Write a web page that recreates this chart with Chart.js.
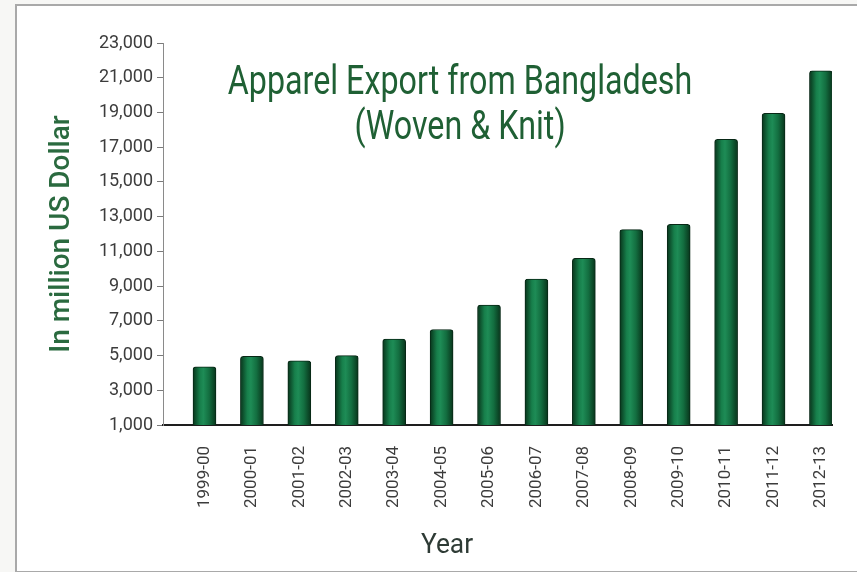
<!DOCTYPE html>
<html>
<head>
<meta charset="utf-8">
<script src="https://cdn.jsdelivr.net/npm/chart.js@4"></script>
<style>
  html, body { margin: 0; padding: 0; background: #f7f7f5; }
  #wrap { position: relative; width: 857px; height: 572px; overflow: hidden; }
  #frame { position: absolute; left: 15px; top: 4px; width: 900px; height: 565px;
           border: 2px solid #a9a9a9; background: #ffffff; }
  canvas { position: absolute; left: 0; top: 0; }
  #title { position: absolute; left: 160px; width: 600px; top: 58px; text-align: center;
           font-family: Roboto, sans-serif; font-size: 40px; line-height: 45px; color: #1f6034;
           white-space: nowrap; transform: scaleX(0.806); transform-origin: 300px 0; }
  #xtitle { position: absolute; left: 397px; width: 100px; top: 530px; text-align: center;
            font-family: Roboto, sans-serif; font-size: 28px; line-height: 28px; color: #2e3b35;
            transform: scaleX(0.94); transform-origin: 50px 0; }
</style>
</head>
<body>
<div id="wrap">
  <div id="frame"></div>
  <canvas id="exportChart" width="857" height="572"></canvas>
  <div id="title">Apparel Export from Bangladesh<br>(Woven &amp; Knit)</div>
  <div id="xtitle">Year</div>
</div>
<script>
// Apparel export, million US$
var years = ['1999-00', '2000-01', '2001-02', '2002-03', '2003-04', '2004-05', '2005-06',
             '2006-07', '2007-08', '2008-09', '2009-10', '2010-11', '2011-12', '2012-13'];
var exportValues = [4350, 4950, 4700, 5000, 5950, 6500, 7900,
                    9400, 10600, 12250, 12550, 17450, 18950, 21400];
var yTicks = [1000, 3000, 5000, 7000, 9000, 11000, 13000, 15000, 17000, 19000, 21000, 23000];

var font = 'Roboto, sans-serif';

// cylinder look: dark edges, lighter band left of centre
function barFill(c) {
    var chart = c.chart;
    if (!chart.chartArea || c.type !== 'data') return '#167a45';
    var cx = chart.scales.x.getPixelForValue(c.parsed.x);
    var g = chart.ctx.createLinearGradient(cx - 11.5, 0, cx + 11.5, 0);
    g.addColorStop(0, '#08341b');
    g.addColorStop(0.3, '#177f4b');
    g.addColorStop(0.45, '#1e8c56');
    g.addColorStop(0.7, '#136e40');
    g.addColorStop(1, '#08341b');
    return g;
}

var ctx = document.getElementById('exportChart').getContext('2d');
var chart = new Chart(ctx, {
    type: 'bar',
    data: {
        datasets: [{
            label: 'Apparel Export',
            data: years.map(function (y, i) { return { x: i, y: exportValues[i] }; }),
            backgroundColor: barFill,
            borderColor: '#082816',
            borderWidth: 1,
            borderRadius: { topLeft: 3, topRight: 3 },
            barThickness: 23
        }]
    },
    options: {
        responsive: false,
        animation: false,
        devicePixelRatio: 1,
        layout: { padding: { left: 0, right: 25, top: 43, bottom: 0 } },
        plugins: {
            legend: { display: false },
            tooltip: { enabled: false }
        },
        scales: {
            x: {
                type: 'linear',
                offset: false,
                min: -0.875,
                max: 13.233,
                afterFit: function (s) { s.height = 147; },
                grid: { display: false },
                border: { display: true, color: '#1e1e1e', width: 2 },
                ticks: {
                    stepSize: 1,
                    includeBounds: false,
                    maxTicksLimit: 30,
                    autoSkip: false,
                    minRotation: 90,
                    maxRotation: 90,
                    padding: 13,
                    color: '#3c3c3c',
                    font: { family: font, size: 17 },
                    callback: function (v) { return years[v] || ''; }
                }
            },
            y: {
                min: yTicks[0],
                max: yTicks[yTicks.length - 1],
                afterFit: function (s) { s.width = 163; },
                afterBuildTicks: function (s) { s.ticks = yTicks.map(function (v) { return { value: v }; }); },
                grid: { display: true, drawOnChartArea: false, drawTicks: true, tickLength: 6, color: '#7a7a7a' },
                border: { display: true, color: '#8a8a8a', width: 1 },
                ticks: {
                    padding: 4,
                    color: '#3c3c3c',
                    font: { family: font, size: 18 },
                    callback: function (v) { return v.toLocaleString('en-US'); }
                },
                title: {
                    display: true,
                    text: 'In million US Dollar',
                    color: '#2a6a3f',
                    font: { family: font, size: 28, weight: '500' },
                    padding: { top: 45, bottom: 0 }
                }
            }
        }
    }
});
</script>
</body>
</html>
